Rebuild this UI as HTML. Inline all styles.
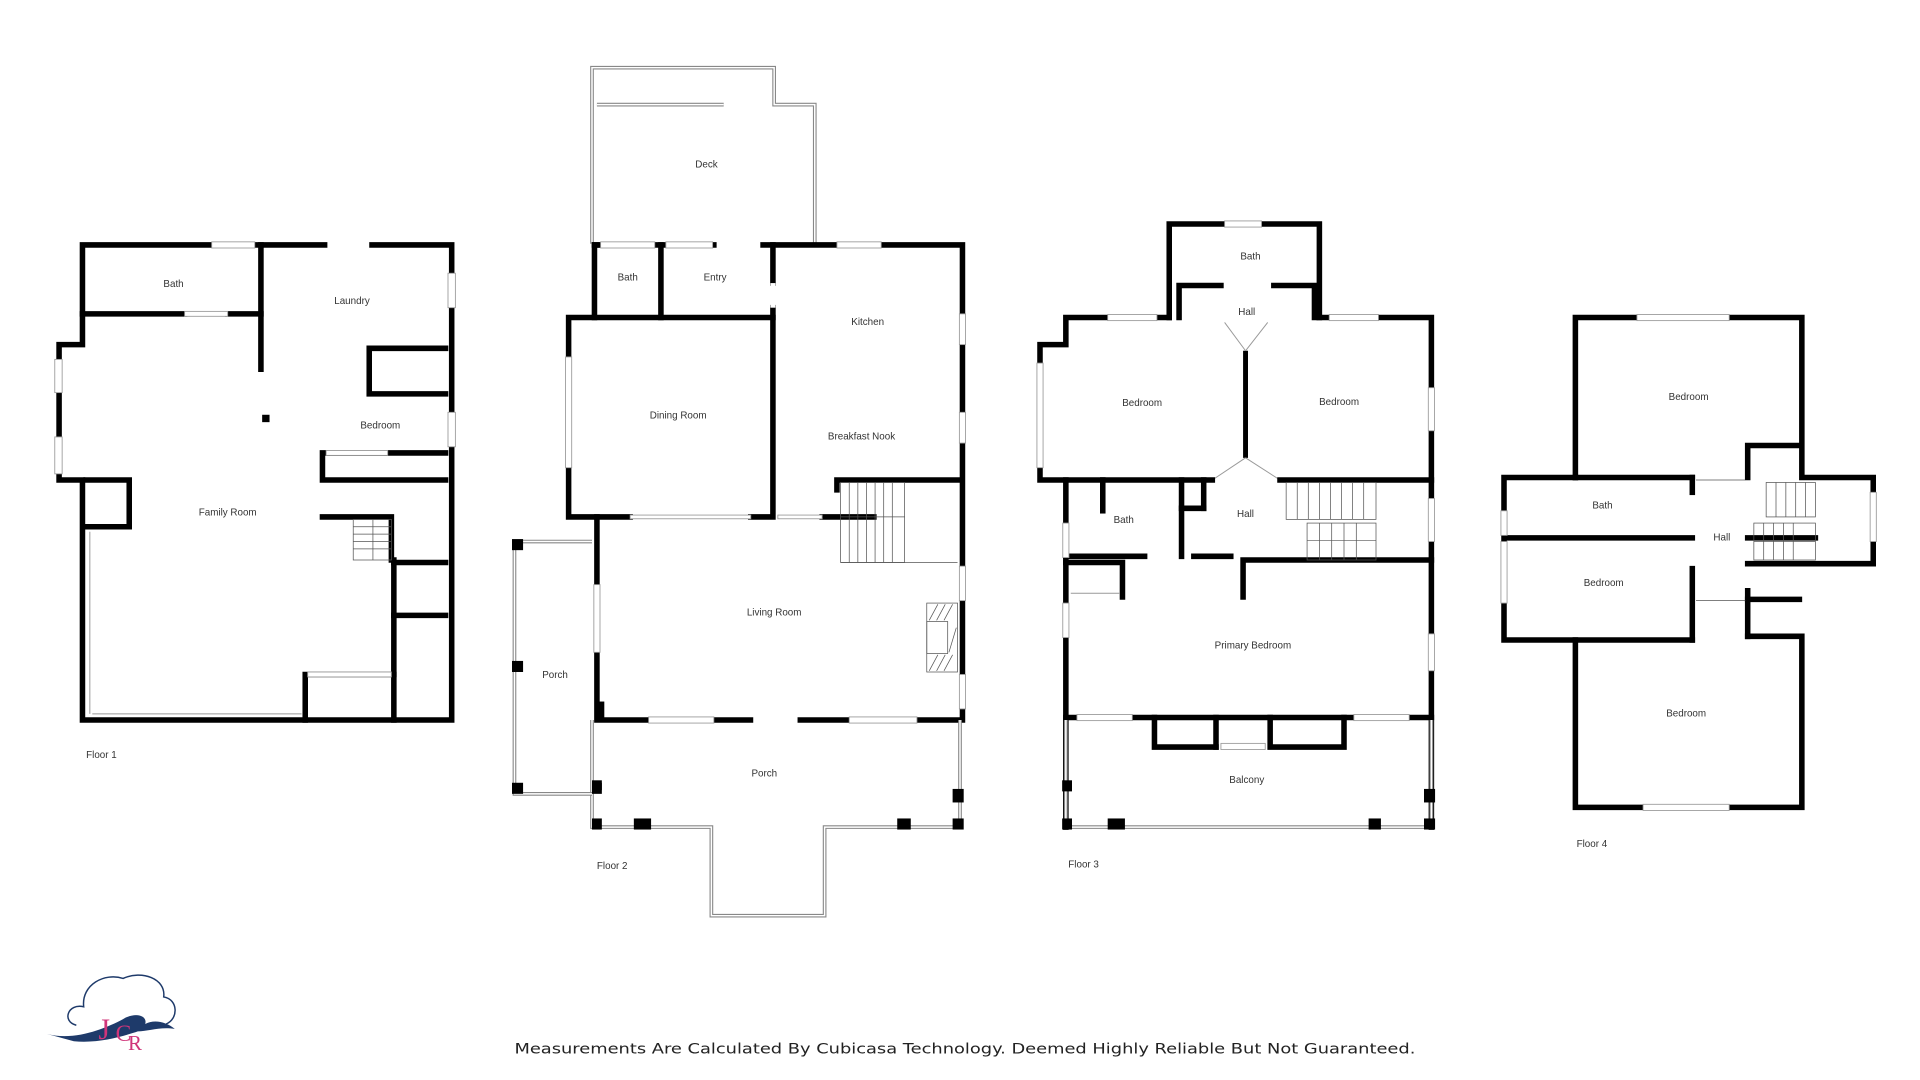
<!DOCTYPE html>
<html><head><meta charset="utf-8"><style>
html,body{margin:0;padding:0;background:#fff;width:1920px;height:1080px;overflow:hidden}
svg{display:block}
text{font-family:"Liberation Sans",sans-serif;fill:#333}
.w{stroke:#000;stroke-width:4.5;fill:none;stroke-linecap:square}
.t{stroke:#888;stroke-width:3;fill:none}
.ti{stroke:#fff;stroke-width:1.2;fill:none}
.win{fill:#fff;stroke:#999;stroke-width:.7}
.st{stroke:#555;stroke-width:.6;fill:none}
.p{fill:#000}
.l{font-size:8px;text-anchor:middle}
</style></head><body>
<svg width="1920" height="1080" viewBox="0 0 1560 877.5" preserveAspectRatio="none">
<!-- ================= FLOOR 1 ================= -->
<g>
<polyline class="w" points="212,199 67,199 67,280 48,280 48,390 67,390 67,585 367,585 367,199 300,199"/>
<polyline class="w" points="265,199 212,199 212,300"/>
<polyline class="w" points="67,255 150,255"/><polyline class="w" points="185,255 212,255"/>
<polyline class="w" points="362,283 300,283 300,320 362,320"/>
<polyline class="w" points="362,368 262,368 262,390 362,390"/>
<polyline class="w" points="70,390 105,390 105,428 70,428"/>
<polyline class="w" points="262,420 318,420 318,455"/>
<polyline class="w" points="320,455 320,585"/><polyline class="w" points="320,457 362,457"/><polyline class="w" points="320,500 362,500"/>
<polyline class="w" points="248,585 248,548 320,548"/>
<rect class="p" x="213" y="337" width="6" height="6"/>
<rect class="win" x="172" y="196.5" width="35" height="5"/>
<rect x="266" y="196" width="34" height="6" fill="#fff"/>
<rect class="win" x="44.5" y="292" width="6" height="27"/>
<rect class="win" x="44.5" y="355" width="6" height="30"/>
<rect class="win" x="364" y="222" width="6" height="28"/>
<rect class="win" x="364" y="335" width="6" height="28"/>
<rect class="win" x="150" y="253" width="35" height="4"/>
<rect class="win" x="265" y="366" width="50" height="4"/>
<rect class="win" x="250" y="546" width="68" height="4"/>
<g class="st"><rect x="287" y="422" width="31" height="33"/><line x1="287" y1="428" x2="318" y2="428"/><line x1="287" y1="434" x2="318" y2="434"/><line x1="287" y1="440" x2="318" y2="440"/><line x1="287" y1="446" x2="318" y2="446"/><line x1="303" y1="422" x2="303" y2="455"/></g>
<line x1="75" y1="580" x2="245" y2="580" stroke="#999" stroke-width=".8"/>
<line x1="73" y1="432" x2="73" y2="580" stroke="#999" stroke-width=".8"/>
<text class="l" x="141" y="233">Bath</text>
<text class="l" x="286" y="247">Laundry</text>
<text class="l" x="309" y="348">Bedroom</text>
<text class="l" x="185" y="419">Family Room</text>
<text x="70" y="616" font-size="8">Floor 1</text>
</g>
<!-- ================= FLOOR 2 ================= -->
<g>
<polyline class="t" points="481,198 481,55 629,55 629,85 662,85 662,198"/>
<polyline class="ti" points="481,198 481,55 629,55 629,85 662,85 662,198"/>
<polyline class="t" points="485,85 588,85"/><polyline class="ti" points="485,85 588,85"/>
<polyline class="w" points="485,199 483,199 483,258 462,258 462,420 485,420 485,585 782,585 782,199 620,199"/>
<polyline class="w" points="483,199 580,199"/>
<polyline class="w" points="537,199 537,258"/>
<polyline class="w" points="483,258 628,258"/>
<polyline class="w" points="628,199 628,230"/><polyline class="w" points="628,250 628,420 610,420"/>
<polyline class="w" points="485,420 512,420"/>
<polyline class="w" points="668,420 710,420"/>
<polyline class="w" points="780,390 680,390 680,398"/>
<rect class="win" x="512" y="418.5" width="98" height="3"/>
<rect class="win" x="632" y="418.5" width="36" height="3"/>
<rect class="win" x="488" y="196.5" width="44" height="5"/>
<rect class="win" x="541" y="196.5" width="38" height="5"/>
<rect class="win" x="680" y="196.5" width="36" height="5"/>
<rect class="win" x="459.5" y="290" width="5" height="90"/>
<rect class="win" x="779.5" y="255" width="5" height="25"/>
<rect class="win" x="779.5" y="335" width="5" height="25"/>
<rect class="win" x="779.5" y="460" width="5" height="28"/>
<rect class="win" x="779.5" y="548" width="5" height="28"/>
<rect class="win" x="482.5" y="475" width="5" height="55"/>
<rect x="626" y="230" width="4" height="20" fill="#fff"/>
<rect class="win" x="527" y="582.5" width="53" height="5"/>
<rect class="win" x="690" y="582.5" width="55" height="5"/>
<rect x="612" y="582" width="36" height="6" fill="#fff"/>
<rect class="p" x="485" y="570" width="6" height="15"/>
<g class="st"><rect x="683" y="392" width="52" height="65"/><line x1="683" y1="457" x2="778" y2="457"/><line x1="683" y1="420" x2="735" y2="420"/>
<line x1="690" y1="392" x2="690" y2="457"/><line x1="697" y1="392" x2="697" y2="457"/><line x1="704" y1="392" x2="704" y2="457"/><line x1="711" y1="392" x2="711" y2="457"/><line x1="718" y1="392" x2="718" y2="457"/><line x1="725" y1="392" x2="725" y2="457"/></g>
<g class="st"><rect x="753" y="490" width="25" height="56"/><rect x="753" y="505" width="17" height="26"/>
<line x1="755" y1="504" x2="762" y2="491"/><line x1="761" y1="504" x2="768" y2="491"/><line x1="767" y1="504" x2="774" y2="491"/>
<line x1="755" y1="545" x2="762" y2="532"/><line x1="761" y1="545" x2="768" y2="532"/><line x1="767" y1="545" x2="774" y2="532"/><line x1="771" y1="530" x2="777" y2="510"/></g>
<polyline class="t" points="481,585 481,672 578,672 578,744 670,744 670,672 780,672 780,585"/>
<polyline class="ti" points="481,585 481,672 578,672 578,744 670,744 670,672 780,672 780,585"/>
<rect class="p" x="481" y="634" width="8" height="8"/><rect class="p" x="481" y="665" width="8" height="9"/>
<rect class="p" x="515" y="665" width="14" height="9"/><rect class="p" x="729" y="665" width="11" height="9"/>
<rect class="p" x="774" y="641" width="9" height="11"/><rect class="p" x="774" y="665" width="9" height="9"/>
<polyline class="t" points="481,440 418,440 418,645 481,645"/><polyline class="ti" points="481,440 418,440 418,645 481,645"/>
<rect class="p" x="416" y="438" width="9" height="9"/><rect class="p" x="416" y="537" width="9" height="9"/><rect class="p" x="416" y="636" width="9" height="9"/><rect class="p" x="481" y="636" width="8" height="9"/>
<text class="l" x="574" y="136">Deck</text>
<text class="l" x="510" y="228">Bath</text>
<text class="l" x="581" y="228">Entry</text>
<text class="l" x="705" y="264">Kitchen</text>
<text class="l" x="551" y="340">Dining Room</text>
<text class="l" x="700" y="357">Breakfast Nook</text>
<text class="l" x="629" y="500">Living Room</text>
<text class="l" x="451" y="551">Porch</text>
<text class="l" x="621" y="631">Porch</text>
<text x="485" y="706" font-size="8">Floor 2</text>
</g>
<!-- ================= FLOOR 3 ================= -->
<g>
<polyline class="w" points="950,258 950,182 1072,182 1072,258"/>
<polyline class="w" points="950,258 866,258 866,280 845,280 845,390 866,390 866,672"/>
<polyline class="w" points="1072,258 1163,258 1163,672"/>
<polyline class="w" points="958,258 958,232 992,232"/>
<polyline class="w" points="1035,232 1068,232 1068,258"/>
<line x1="1012" y1="285" x2="1012" y2="372" stroke="#000" stroke-width="4"/>
<line x1="995" y1="262" x2="1012" y2="285" stroke="#999" stroke-width=".8"/><line x1="1030" y1="262" x2="1012" y2="285" stroke="#999" stroke-width=".8"/>
<line x1="985" y1="390" x2="1012" y2="372" stroke="#999" stroke-width=".8"/><line x1="1040" y1="390" x2="1012" y2="372" stroke="#999" stroke-width=".8"/>
<polyline class="w" points="866,390 985,390"/><polyline class="w" points="1040,390 1163,390"/>
<polyline class="w" points="896,390 896,415"/>
<polyline class="w" points="960,390 960,452"/><polyline class="w" points="960,413 978,413"/><polyline class="w" points="978,390 978,413"/>
<polyline class="w" points="866,452 930,452"/><polyline class="w" points="970,452 1000,452"/>
<polyline class="w" points="866,457 912,457 912,485"/><line x1="870" y1="482" x2="910" y2="482" stroke="#999" stroke-width=".8"/>
<polyline class="w" points="1010,485 1010,455 1163,455"/>
<polyline class="w" points="866,583 1163,583"/>
<polyline class="w" points="938,583 938,607 988,607"/><polyline class="w" points="1092,583 1092,607 1032,607 1032,583"/>
<polyline class="w" points="988,607 988,583"/>
<rect class="win" x="995" y="179.5" width="30" height="5"/>
<rect class="win" x="900" y="255.5" width="40" height="5"/>
<rect class="win" x="1080" y="255.5" width="40" height="5"/>
<rect class="win" x="842.5" y="295" width="5" height="85"/>
<rect class="win" x="863.5" y="425" width="5" height="28"/>
<rect class="win" x="863.5" y="490" width="5" height="28"/>
<rect class="win" x="1160.5" y="315" width="5" height="35"/>
<rect class="win" x="1160.5" y="405" width="5" height="35"/>
<rect class="win" x="1160.5" y="515" width="5" height="30"/>
<rect class="win" x="875" y="580.5" width="45" height="5"/>
<rect class="win" x="1100" y="580.5" width="45" height="5"/>
<rect class="win" x="992" y="604" width="36" height="5"/>
<g class="st"><rect x="1045" y="392" width="73" height="30"/><rect x="1062" y="425" width="56" height="30"/>
<line x1="1054" y1="392" x2="1054" y2="422"/><line x1="1063" y1="392" x2="1063" y2="422"/><line x1="1072" y1="392" x2="1072" y2="422"/><line x1="1081" y1="392" x2="1081" y2="422"/><line x1="1090" y1="392" x2="1090" y2="422"/><line x1="1099" y1="392" x2="1099" y2="422"/><line x1="1108" y1="392" x2="1108" y2="422"/>
<line x1="1072" y1="425" x2="1072" y2="455"/><line x1="1082" y1="425" x2="1082" y2="455"/><line x1="1092" y1="425" x2="1092" y2="455"/><line x1="1102" y1="425" x2="1102" y2="455"/><line x1="1062" y1="439" x2="1118" y2="439"/></g>
<polyline class="t" points="866,585 866,672 1163,672 1163,585"/><polyline class="ti" points="866,585 866,672 1163,672 1163,585"/>
<rect class="p" x="863" y="634" width="8" height="9"/><rect class="p" x="863" y="665" width="8" height="9"/>
<rect class="p" x="900" y="665" width="14" height="9"/><rect class="p" x="1112" y="665" width="10" height="9"/>
<rect class="p" x="1157" y="641" width="9" height="11"/><rect class="p" x="1157" y="665" width="9" height="9"/>
<text class="l" x="1016" y="211">Bath</text>
<text class="l" x="1013" y="256">Hall</text>
<text class="l" x="928" y="330">Bedroom</text>
<text class="l" x="1088" y="329">Bedroom</text>
<text class="l" x="1012" y="420">Hall</text>
<text class="l" x="913" y="425">Bath</text>
<text class="l" x="1018" y="527">Primary Bedroom</text>
<text class="l" x="1013" y="636">Balcony</text>
<text x="868" y="705" font-size="8">Floor 3</text>
</g>
<!-- ================= FLOOR 4 ================= -->
<g>
<polyline class="w" points="1280,388 1280,258 1464,258 1464,388 1522,388 1522,458 1420,458"/>
<polyline class="w" points="1280,388 1222,388 1222,520 1375,520"/>
<polyline class="w" points="1280,520 1280,656 1464,656 1464,517"/>
<polyline class="w" points="1225,437 1375,437"/>
<polyline class="w" points="1375,388 1375,400"/><polyline class="w" points="1375,462 1375,520"/>
<polyline class="w" points="1420,388 1420,362 1460,362"/>
<polyline class="w" points="1420,437 1475,437"/>
<polyline class="w" points="1420,487 1462,487"/><polyline class="w" points="1420,517 1462,517"/><polyline class="w" points="1420,480 1420,517"/>
<polyline class="w" points="1280,388 1375,388"/>
<rect class="win" x="1330" y="255.5" width="75" height="5"/>
<rect class="win" x="1335" y="653.5" width="70" height="5"/>
<rect class="win" x="1219.5" y="415" width="5" height="20"/>
<rect class="win" x="1219.5" y="440" width="5" height="50"/>
<rect class="win" x="1519.5" y="400" width="5" height="40"/>
<g class="st"><rect x="1435" y="392" width="40" height="28"/><rect x="1425" y="425" width="50" height="30"/>
<line x1="1443" y1="392" x2="1443" y2="420"/><line x1="1451" y1="392" x2="1451" y2="420"/><line x1="1459" y1="392" x2="1459" y2="420"/><line x1="1467" y1="392" x2="1467" y2="420"/>
<line x1="1425" y1="440" x2="1475" y2="440"/><line x1="1433" y1="425" x2="1433" y2="455"/><line x1="1441" y1="425" x2="1441" y2="455"/><line x1="1449" y1="425" x2="1449" y2="455"/><line x1="1457" y1="425" x2="1457" y2="455"/>
<line x1="1378" y1="390" x2="1418" y2="390"/><line x1="1378" y1="488" x2="1418" y2="488"/></g>
<text class="l" x="1372" y="325">Bedroom</text>
<text class="l" x="1302" y="413">Bath</text>
<text class="l" x="1399" y="439">Hall</text>
<text class="l" x="1303" y="476">Bedroom</text>
<text class="l" x="1370" y="582">Bedroom</text>
<text x="1281" y="688" font-size="8">Floor 4</text>
</g>
<!-- logo -->
<g>
<path d="M62,833 C50,830 55,815 68,818 C66,800 85,790 100,795 C115,788 135,795 133,810 C145,812 145,828 135,832" fill="none" stroke="#1e3a6a" stroke-width="1.2"/>
<path d="M38,840 C60,846 85,836 100,828 C110,822 120,825 118,832 C125,828 135,830 142,836 C130,834 120,838 112,838 C100,842 80,848 60,846 Z" fill="#1e3a6a"/>
<text x="80" y="844" font-size="24" style="fill:#d0357a;font-family:'Liberation Serif',serif">J</text>
<text x="94" y="846" font-size="19" style="fill:#d0357a;font-family:'Liberation Serif',serif">C</text>
<text x="104" y="853" font-size="17" style="fill:#d0357a;font-family:'Liberation Serif',serif">R</text>
</g>
<text x="418" y="856" font-size="11.5" textLength="732" lengthAdjust="spacingAndGlyphs" style="fill:#222;font-family:'DejaVu Sans',sans-serif">Measurements Are Calculated By Cubicasa Technology. Deemed Highly Reliable But Not Guaranteed.</text>
</svg>
</body></html>
